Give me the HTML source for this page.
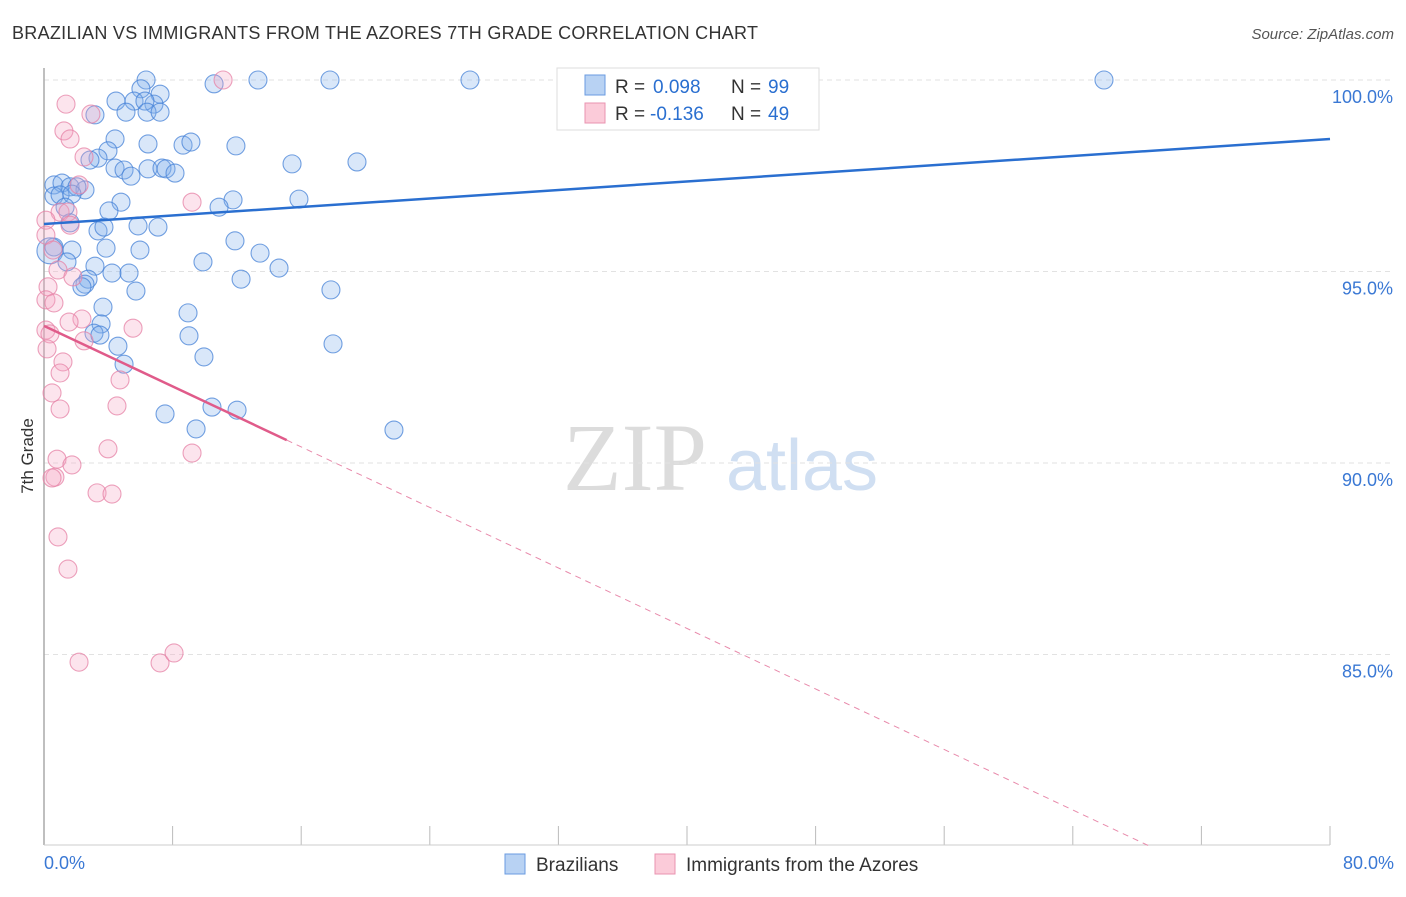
<!DOCTYPE html>
<html><head><meta charset="utf-8"><style>
body{margin:0;background:#fff;font-family:"Liberation Sans",sans-serif}
</style></head><body>
<svg id="chart" width="1406" height="892" xmlns="http://www.w3.org/2000/svg" font-family="Liberation Sans, sans-serif">
<text x="12" y="39" font-size="18" fill="#333" textLength="746">BRAZILIAN VS IMMIGRANTS FROM THE AZORES 7TH GRADE CORRELATION CHART</text>
<text x="1394" y="39" font-size="15" fill="#555" text-anchor="end" font-style="italic">Source: ZipAtlas.com</text>
<g>
<text x="635" y="490" font-size="96" fill="#dcdcdc" font-family="Liberation Serif, serif" text-anchor="middle">ZIP</text>
<text x="802" y="490" font-size="72" fill="#d0dff2" text-anchor="middle">atlas</text>
</g>
<g id="grid"></g>
<line x1="44" y1="68" x2="44" y2="845" stroke="#aaa" stroke-width="1.5"/>
<line x1="44" y1="845" x2="1330" y2="845" stroke="#ccc"/>
<text transform="translate(33,456) rotate(-90)" font-size="17" fill="#333" text-anchor="middle">7th Grade</text>
<g id="pts"></g>
<g id="lines"></g>
<text x="44" y="869" font-size="18" fill="#3a78d4">0.0%</text>
<text x="1394" y="869" font-size="18" fill="#3a78d4" text-anchor="end">80.0%</text>
<g>
<rect x="557" y="68" width="262" height="62" fill="#fff" stroke="#ddd"/>
<rect x="585" y="75" width="20" height="20" fill="#b8d2f3" stroke="#6a9be0"/>
<text x="615" y="93" font-size="19" fill="#333">R =</text><text x="653" y="93" font-size="19" fill="#2a6fd0">0.098</text>
<text x="731" y="93" font-size="19" fill="#333">N =</text><text x="768" y="93" font-size="19" fill="#2a6fd0">99</text>
<rect x="585" y="103" width="20" height="20" fill="#fbcbd9" stroke="#e993b0"/>
<text x="615" y="120" font-size="19" fill="#333">R =</text><text x="650" y="120" font-size="19" fill="#2a6fd0">-0.136</text>
<text x="731" y="120" font-size="19" fill="#333">N =</text><text x="768" y="120" font-size="19" fill="#2a6fd0">49</text>
</g>
<g>
<rect x="505" y="854" width="20" height="20" fill="#b8d2f3" stroke="#6a9be0"/>
<text x="536" y="871" font-size="19" fill="#333">Brazilians</text>
<rect x="655" y="854" width="20" height="20" fill="#fbcbd9" stroke="#e993b0"/>
<text x="686" y="871" font-size="19" fill="#333">Immigrants from the Azores</text>
</g>
</svg>
<script>
const blueX=[6.35,10.58,13.31,17.79,26.50,65.94,6.03,7.22,4.48,5.60,6.84,6.28,3.17,5.10,6.41,7.22,4.42,6.47,8.65,9.14,11.94,3.98,3.36,2.86,15.43,19.47,4.42,4.98,6.47,7.34,7.59,8.15,5.41,0.62,1.12,1.62,2.55,2.05,0.62,1.00,1.74,15.86,11.76,4.79,10.89,4.04,1.31,1.62,3.36,3.73,5.85,7.09,11.88,0.62,1.74,3.86,5.97,13.44,0.37,9.89,14.62,1.43,3.17,4.23,5.29,12.26,2.74,17.85,2.55,2.36,5.72,3.67,8.96,3.55,3.11,9.02,3.48,4.60,9.95,17.98,4.98,7.53,10.45,12.01,9.46,21.77];
const blueY=[100.0,99.9,100.0,100.0,100.0,100.0,99.77,99.63,99.45,99.45,99.37,99.45,99.09,99.16,99.16,99.16,98.46,98.33,98.30,98.38,98.28,98.15,97.96,97.91,97.81,97.86,97.70,97.65,97.68,97.70,97.68,97.57,97.49,97.26,97.31,97.21,97.13,97.21,96.97,97.00,97.02,96.89,96.87,96.81,96.68,96.58,96.68,96.27,96.06,96.16,96.19,96.16,95.80,95.64,95.56,95.61,95.56,95.48,95.54,95.25,95.09,95.25,95.14,94.96,94.96,94.80,94.80,94.52,94.67,94.60,94.49,94.07,93.92,93.63,93.39,93.32,93.34,93.05,92.77,93.11,92.58,91.28,91.46,91.38,90.89,90.86];
const pinkX=[11.14,1.37,1.24,1.62,2.92,2.49,2.18,1.00,1.49,1.62,0.12,0.12,0.56,0.87,1.80,0.25,0.12,0.62,2.36,1.56,5.54,0.12,0.37,2.49,0.19,1.18,4.73,1.00,0.50,1.00,4.54,9.21,3.98,9.21,0.81,1.74,0.68,0.50,3.30,4.23,0.87,1.49,2.18,7.22,8.09];
const pinkY=[100.0,99.37,98.67,98.46,99.11,97.99,97.26,96.55,96.55,96.21,96.34,95.95,95.56,95.04,94.86,94.60,94.26,94.18,93.76,93.68,93.52,93.47,93.37,93.19,92.98,92.64,92.17,92.35,91.83,91.41,91.49,96.81,90.37,90.26,90.10,89.95,89.63,89.61,89.22,89.19,88.07,87.23,84.80,84.78,85.04];
const yTicks=[100,95,90,85];
const xTicks=[0,8,16,24,32,40,48,56,64,72,80];
const blueTrend=[96.24,98.46];
const pinkTrend=[93.58,-0.1975];
const pinkSolidEnd=15.1;
const NS="http://www.w3.org/2000/svg";
function sx(v){return 44+v/80*1286;}
function sy(v){return 80+(100-v)*38.3;}
function mk(tag,a,p){const e=document.createElementNS(NS,tag);for(const k in a)e.setAttribute(k,a[k]);p.appendChild(e);return e;}
const grid=document.getElementById('grid');
yTicks.forEach(t=>{
 const l=mk('line',{x1:44,x2:1392,y1:sy(t),y2:sy(t),stroke:'#e2e2e2','stroke-dasharray':'5,4'},grid);
 
 
 const tx=mk('text',{x:1393,y:sy(t)+23,'font-size':18,fill:'#3a78d4','text-anchor':'end'},grid);
 tx.textContent=t.toFixed(1)+'%';
 
 
});
xTicks.forEach(t=>{
 const l=mk('line',{x1:sx(t),x2:sx(t),y1:826,y2:845,stroke:'#bbb'},grid);
 
 
});
const pts=document.getElementById('pts');
blueX.forEach((x,i)=>{
 const c=mk('circle',{cx:sx(x),cy:sy(blueY[i]),r:i==58?13:9,fill:'rgba(130,175,235,0.3)',stroke:'rgba(70,130,215,0.75)','stroke-width':1.1},pts);
 
 
});
pinkX.forEach((x,i)=>{
 const c=mk('circle',{cx:sx(x),cy:sy(pinkY[i]),r:9,fill:'rgba(245,165,195,0.3)',stroke:'rgba(230,130,165,0.75)','stroke-width':1.1},pts);
 
 
});
const lines=document.getElementById('lines');
const bl=mk('line',{x1:sx(0),y1:sy(blueTrend[0]),x2:sx(80),y2:sy(blueTrend[1]),stroke:'#2a6fd0','stroke-width':2.5},lines);


const pEnd=pinkTrend[0]+pinkTrend[1]*pinkSolidEnd;
const pl=mk('line',{x1:sx(0),y1:sy(pinkTrend[0]),x2:sx(pinkSolidEnd),y2:sy(pEnd),stroke:'#e05b8a','stroke-width':2.5},lines);


const xb=(80-pinkTrend[0])/pinkTrend[1];
const pd=mk('line',{x1:sx(pinkSolidEnd),y1:sy(pEnd),x2:sx(xb),y2:sy(80),stroke:'#e88aab','stroke-width':1,'stroke-dasharray':'6,5'},lines);


</script>
</body></html>
